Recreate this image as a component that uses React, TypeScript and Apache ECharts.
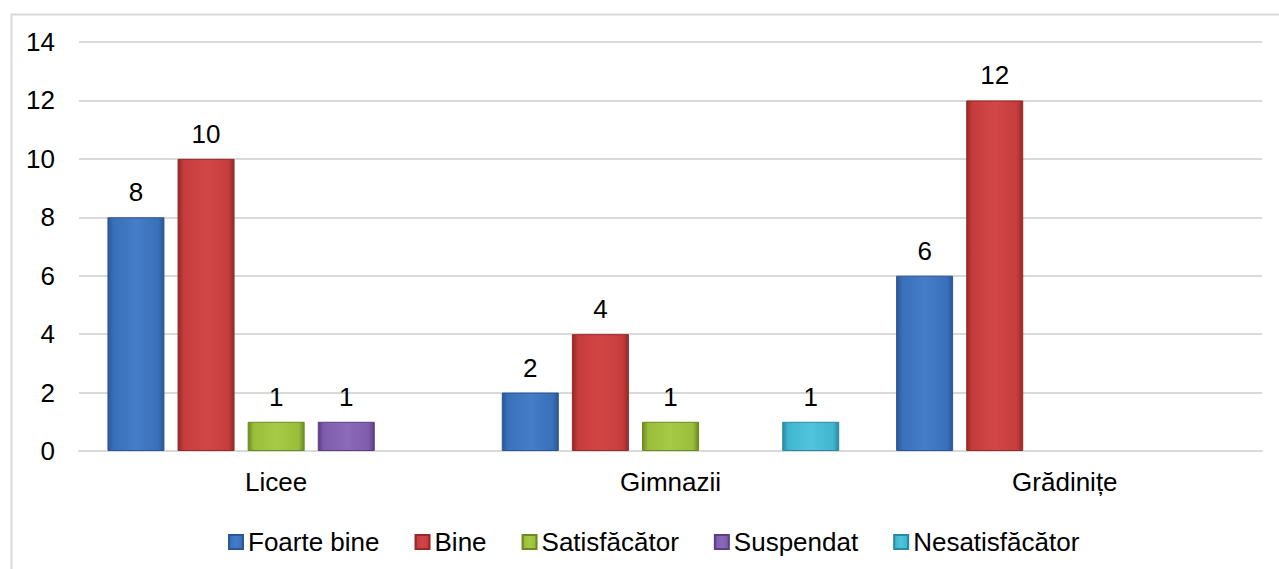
import React, { useEffect, useRef } from "react";
import * as echarts from "echarts";

const categories = ["Licee", "Gimnazii", "Grădinițe"];
const seriesNames = ["Foarte bine", "Bine", "Satisfăcător", "Suspendat", "Nesatisfăcător"];
const foarteBine = [8, 2, 6];
const bine = [10, 4, 12];
const satisfacator = [1, 1, null];
const suspendat = [1, null, null];
const nesatisfacator = [null, 1, null];
const yTicks = { min: 0, max: 14, interval: 2 };

const palette = [
  { base: "#3A70BA", light: "#457DC8", edge: "#2A5795" },
  { base: "#C63C3C", light: "#D24646", edge: "#962828" },
  { base: "#9ABE3A", light: "#A6CA46", edge: "#6C8A22" },
  { base: "#7F5DAD", light: "#8C6ABA", edge: "#5B3F83" },
  { base: "#40B6D0", light: "#52C4DD", edge: "#2A8AA2" },
];

const FONT = "'Liberation Sans', Arial, sans-serif";

export default function App() {
  const ref = useRef<HTMLDivElement>(null);
  useEffect(() => {
    if (!ref.current) return;
    const chart = echarts.init(ref.current, undefined, { renderer: "svg" });
    const values = [foarteBine, bine, satisfacator, suspendat, nesatisfacator];
    const grad = (c: any) =>
      new echarts.graphic.LinearGradient(0, 0, 1, 0, [
        { offset: 0, color: c.edge },
        { offset: 0.1, color: c.base },
        { offset: 0.5, color: c.light },
        { offset: 0.9, color: c.base },
        { offset: 1, color: c.edge },
      ]);
    chart.setOption({
      animation: false,
      backgroundColor: "#ffffff",
      textStyle: { fontFamily: FONT },
      graphic: [
        {
          type: "rect",
          left: 9,
          top: 12,
          shape: { width: 1300, height: 600 },
          style: { fill: "none", stroke: "#d9d9d9", lineWidth: 2 },
          silent: true,
          z: -10,
        },
      ],
      grid: { left: 79, right: 17, top: 42, bottom: 118, containLabel: false },
      legend: {
        left: 223,
        top: 524,
        itemWidth: 14,
        itemHeight: 14,
        itemGap: 35,
        icon: "rect",
        textStyle: { fontSize: 26, color: "#000", fontFamily: FONT },
        data: seriesNames,
      },
      xAxis: {
        type: "category",
        data: categories,
        axisLine: { show: true, lineStyle: { color: "#d9d9d9", width: 2 } },
        axisTick: { show: false },
        axisLabel: { fontSize: 26, color: "#000", margin: 18, fontFamily: FONT },
      },
      yAxis: {
        type: "value",
        min: yTicks.min,
        max: yTicks.max,
        interval: yTicks.interval,
        axisLine: { show: false },
        axisTick: { show: false },
        axisLabel: { fontSize: 26, color: "#000", margin: 24, fontFamily: FONT },
        splitLine: { lineStyle: { color: "#d9d9d9", width: 2 } },
      },
      series: seriesNames.map((name, i) => ({
        name,
        type: "bar",
        data: values[i],
        barWidth: 57,
        barGap: "23%",
        itemStyle: {
          color: grad(palette[i]),
          borderColor: palette[i].edge,
          borderWidth: 1,
        },
        label: {
          show: true,
          position: "top",
          distance: 12,
          fontSize: 26,
          color: "#000",
          fontFamily: FONT,
        },
      })),
    });
    return () => chart.dispose();
  }, []);
  return <div ref={ref} style={{ width: 1279, height: 569, position: "absolute", left: 0, top: 0 }} />;
}
